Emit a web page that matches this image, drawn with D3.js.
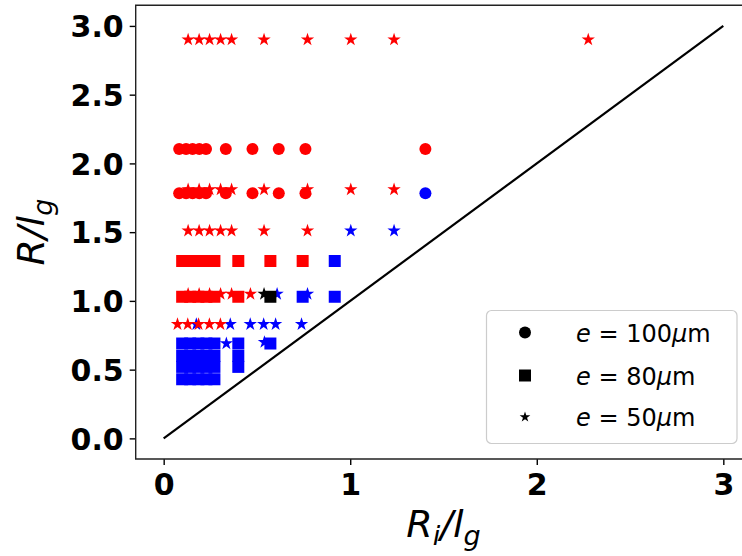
<!DOCTYPE html>
<html>
<head>
<meta charset="utf-8">
<script src="https://cdn.jsdelivr.net/npm/d3@7"></script>
<style>
  html, body { margin: 0; padding: 0; background: #fff; }
  svg { display: block; }
</style>
</head>
<body>
<svg id="chart" width="742" height="556"></svg>
<script>
// ---------------- data ----------------
// e = 100 µm (circles)
const circRedX = [0.083, 0.12, 0.155, 0.191, 0.227, 0.333, 0.476, 0.617, 0.76, 1.403,
                  0.083, 0.12, 0.155, 0.191, 0.227, 0.333, 0.476, 0.617, 0.76];
const circRedY = [2.105, 2.105, 2.105, 2.105, 2.105, 2.105, 2.105, 2.105, 2.105, 2.105,
                  1.783, 1.783, 1.783, 1.783, 1.783, 1.783, 1.783, 1.783, 1.783];
const circBlueX = [1.403];
const circBlueY = [1.783];

// e = 80 µm (squares)
const sqRedX = [0.099, 0.142, 0.186, 0.229, 0.272, 0.40, 0.572, 0.745,
                0.099, 0.142, 0.186, 0.229, 0.272, 0.40];
const sqRedY = [1.29, 1.29, 1.29, 1.29, 1.29, 1.29, 1.29, 1.29,
                1.03, 1.03, 1.03, 1.03, 1.03, 1.03];
const sqBlackX = [0.572];
const sqBlackY = [1.03];
const sqBlueX = [0.917, 0.745, 0.917,
                 0.099, 0.142, 0.186, 0.229, 0.272,
                 0.099, 0.142, 0.186, 0.229, 0.272,
                 0.099, 0.142, 0.186, 0.229, 0.272,
                 0.099, 0.142, 0.186, 0.229, 0.272,
                 0.40, 0.40, 0.40, 0.572];
const sqBlueY = [1.29, 1.03, 1.03,
                 0.69, 0.69, 0.69, 0.69, 0.69,
                 0.60, 0.60, 0.60, 0.60, 0.60,
                 0.52, 0.52, 0.52, 0.52, 0.52,
                 0.43, 0.43, 0.43, 0.43, 0.43,
                 0.69, 0.60, 0.52, 0.69];

// e = 50 µm (stars)
const starRedX = [0.131, 0.19, 0.246, 0.305, 0.364, 0.538, 0.771, 1.003, 1.235, 2.276,
                  0.131, 0.19, 0.246, 0.305, 0.364, 0.538, 0.771, 1.003, 1.235,
                  0.131, 0.19, 0.246, 0.305, 0.364, 0.538, 0.771,
                  0.131, 0.19, 0.246, 0.305, 0.364, 0.465,
                  0.074, 0.129, 0.187, 0.245, 0.304];
const starRedY = [2.9, 2.9, 2.9, 2.9, 2.9, 2.9, 2.9, 2.9, 2.9, 2.9,
                  1.81, 1.81, 1.81, 1.81, 1.81, 1.81, 1.81, 1.81, 1.81,
                  1.51, 1.51, 1.51, 1.51, 1.51, 1.51, 1.51,
                  1.05, 1.05, 1.05, 1.05, 1.05, 1.05,
                  0.83, 0.83, 0.83, 0.83, 0.83];
const starBlackX = [0.538];
const starBlackY = [1.05];
const starBlueX = [1.003, 1.235, 0.608, 0.771,
                   0.175, 0.357, 0.464, 0.536, 0.60, 0.739,
                   0.336, 0.54];
const starBlueY = [1.51, 1.51, 1.05, 1.05,
                   0.83, 0.83, 0.83, 0.83, 0.83, 0.83,
                   0.69, 0.70];

// reference line R = Ri
const lineX = [0, 3];
const lineY = [0, 3];

const xTicks = [0, 1, 2, 3];
const yTicks = [0.0, 0.5, 1.0, 1.5, 2.0, 2.5, 3.0];
const legendLabels = ["100", "80", "50"];

// ---------------- drawing ----------------
const svg = d3.select("#chart");
const L = 135.7, R = 751.3, T = 5.3, B = 459;
const x = d3.scaleLinear().domain([-0.15, 3.15]).range([L, R]);
const y = d3.scaleLinear().domain([-0.15, 3.15]).range([B, T]);

const RED = "#ff0000", BLUE = "#0000ff", BLACK = "#000000";
const starSize = (r) => r * r / 0.8908130915292852;
const shapes = {
  circle: d3.symbol().type(d3.symbolCircle).size(Math.PI * 36),
  square: d3.symbol().type(d3.symbolSquare).size(144),
  star: d3.symbol().type(d3.symbolStar).size(starSize(7.0))
};

const plot = svg.append("g");

// diagonal line
plot.append("path")
  .attr("d", d3.line().x(d => x(d[0])).y(d => y(d[1]))(lineX.map((v, i) => [v, lineY[i]])))
  .attr("fill", "none").attr("stroke", BLACK).attr("stroke-width", 2.2);

function series(xs, ys, shape, color) {
  const pts = xs.map((v, i) => [v, ys[i]]);
  plot.append("g").selectAll("path").data(pts).join("path")
    .attr("transform", d => `translate(${x(d[0])},${y(d[1])})`)
    .attr("d", shapes[shape])
    .attr("fill", color);
}

series(circRedX, circRedY, "circle", RED);
series(circBlueX, circBlueY, "circle", BLUE);
series(sqRedX, sqRedY, "square", RED);
series(sqBlueX, sqBlueY, "square", BLUE);
series(starBlueX, starBlueY, "star", BLUE);
series(starRedX, starRedY, "star", RED);
series(starBlackX, starBlackY, "star", BLACK);
series(sqBlackX, sqBlackY, "square", BLACK);

// axes
const tickFont = "'DejaVu Sans', sans-serif";
const xAxis = svg.append("g").attr("transform", `translate(0,${B})`)
  .call(d3.axisBottom(x).tickValues(xTicks).tickFormat(d3.format("d")).tickSize(6).tickPadding(6));
const yAxis = svg.append("g").attr("transform", `translate(${L},0)`)
  .call(d3.axisLeft(y).tickValues(yTicks).tickFormat(d3.format(".1f")).tickSize(6).tickPadding(6));
[xAxis, yAxis].forEach(a => {
  a.select(".domain").remove();
  a.selectAll(".tick line").attr("stroke", "#000").attr("stroke-width", 1.4);
  a.selectAll(".tick text").attr("fill", "#000")
    .style("font-family", tickFont).style("font-weight", "bold").style("font-size", "30px");
});
xAxis.selectAll(".tick text").attr("dy", "0.8em");
yAxis.selectAll(".tick text").attr("dy", "0.36em");

// spines (left, top, bottom)
svg.append("path")
  .attr("d", `M${R},${T}H${L}V${B}H${R}`)
  .attr("fill", "none").attr("stroke", "#222").attr("stroke-width", 1.4);

// axis labels
const xl = svg.append("text").attr("x", (L + R) / 2).attr("y", 537)
  .attr("text-anchor", "middle")
  .style("font-family", tickFont).style("font-size", "38px").style("font-style", "italic");
xl.append("tspan").text("R");
xl.append("tspan").text("i").attr("dy", 8).style("font-size", "27px");
xl.append("tspan").text("/l").attr("dy", -8);
xl.append("tspan").text("g").attr("dy", 8).style("font-size", "27px");

const yl = svg.append("text")
  .attr("transform", `translate(44,${(T + B) / 2}) rotate(-90)`)
  .attr("text-anchor", "middle")
  .style("font-family", tickFont).style("font-size", "38px").style("font-style", "italic");
yl.append("tspan").text("R/l");
yl.append("tspan").text("g").attr("dy", 8).style("font-size", "27px");

// legend
const lg = svg.append("g");
lg.append("rect").attr("x", 486.5).attr("y", 310.5).attr("width", 250.5).attr("height", 133)
  .attr("rx", 5).attr("fill", "#fff").attr("fill-opacity", 0.8)
  .attr("stroke", "#cccccc").attr("stroke-width", 1.2);
const legShapes = [
  d3.symbol().type(d3.symbolCircle).size(Math.PI * 36),
  d3.symbol().type(d3.symbolSquare).size(144),
  d3.symbol().type(d3.symbolStar).size(starSize(5.6))
];
const rowsY = [332.5, 375.5, 417];
legendLabels.forEach((lab, i) => {
  lg.append("path").attr("d", legShapes[i]).attr("fill", "#000")
    .attr("transform", `translate(525,${rowsY[i]})`);
  const t = lg.append("text").attr("x", 576).attr("y", rowsY[i] + 9)
    .style("font-family", tickFont).style("font-size", "24px").attr("fill", "#000");
  t.append("tspan").text("e").style("font-style", "italic");
  t.append("tspan").text(" = " + lab);
  t.append("tspan").text("μ").style("font-style", "italic");
  t.append("tspan").text("m");
});
</script>
</body>
</html>
